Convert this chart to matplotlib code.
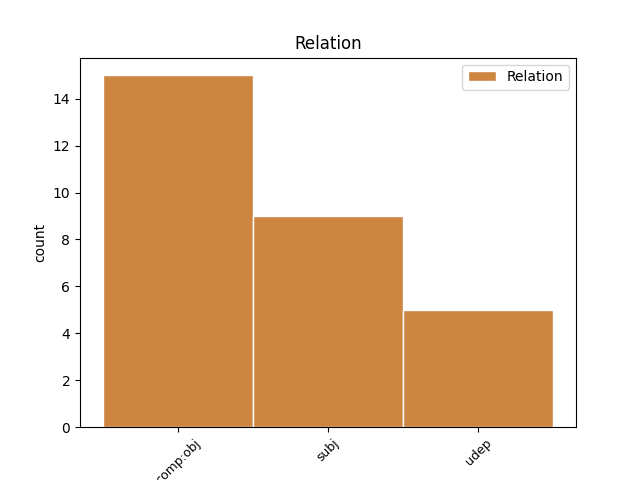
import matplotlib
matplotlib.use("Agg")
import matplotlib.pyplot as plt

relations = ["comp:obj", "subj", "udep"]
counts = [15, 9, 5]

fig, ax = plt.subplots(figsize=(6.4, 4.8), dpi=100)
ax.bar(range(len(relations)), counts, width=1.0, color="peru",
       edgecolor="white", label="Relation")
ax.set_xticks(range(len(relations)))
ax.set_xticklabels(relations, rotation=45, fontsize=9)
ax.set_ylabel("count")
ax.set_title("Relation")
ax.legend(loc="upper right")
fig.savefig("out.png")
